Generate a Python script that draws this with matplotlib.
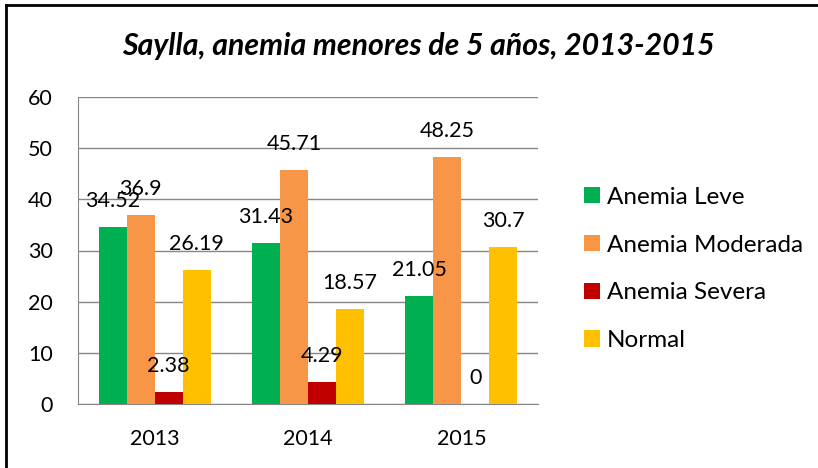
import matplotlib.pyplot as plt
import numpy as np
from matplotlib.lines import Line2D

# ---- data ----
years = ["2013", "2014", "2015"]
series_names = ["Anemia Leve", "Anemia Moderada", "Anemia Severa", "Normal"]
leve = [34.52, 31.43, 21.05]
moderada = [36.9, 45.71, 48.25]
severa = [2.38, 4.29, 0]
normal = [26.19, 18.57, 30.7]
colors = ["#00B050", "#F79646", "#C00000", "#FFC000"]

plt.rcParams["font.family"] = ["Lato", "DejaVu Sans"]

W, H = 818, 468
fig = plt.figure(figsize=(W / 100, H / 100), dpi=100)
ax = fig.add_axes([78 / W, 1 - 404 / H, 460 / W, 307 / H])

x = np.arange(len(years))
bw = 0.183
all_series = [leve, moderada, severa, normal]
for i, (vals, name, col) in enumerate(zip(all_series, series_names, colors)):
    pos = x + (i - 1.5) * bw
    ax.bar(pos, vals, width=bw, color=col, label=name, zorder=3)
    for px, v in zip(pos, vals):
        ax.annotate(f"{v:g}", (px, v), xytext=(0, 26), textcoords="offset pixels",
                    ha="center", va="center", fontsize=15.5, color="black", zorder=4)

ax.set_xlim(-0.5, 2.5)
ax.set_ylim(0, 60)
ax.set_yticks(range(0, 61, 10))
ax.set_xticks(x)
ax.set_xticklabels(years)
ax.tick_params(axis="both", length=0, labelsize=15.5, colors="black")
ax.tick_params(axis="y", pad=18)
ax.tick_params(axis="x", pad=18)
ax.grid(axis="y", color="#868686", linewidth=1, zorder=0)
for s in ["top", "right"]:
    ax.spines[s].set_visible(False)
ax.spines["left"].set_color("#868686")
ax.spines["bottom"].set_color("#868686")

fig.text(0.512, 1 - 46 / H, "Saylla, anemia menores de 5 años, 2013-2015",
         ha="center", va="center", fontsize=21.8, fontweight="bold", fontstyle="italic")

ax.legend(loc="center left", bbox_to_anchor=(574 / W, 1 - 269 / H), bbox_transform=fig.transFigure,
          frameon=False, fontsize=17.5, handlelength=0.65, handleheight=0.65,
          handletextpad=0.3, labelspacing=1.1, borderaxespad=0)

# chart border (top and left edges visible)
fig.add_artist(Line2D([5.5 / W, 1], [1 - 5 / H, 1 - 5 / H], color="black", linewidth=2,
                      transform=fig.transFigure))
fig.add_artist(Line2D([5.5 / W, 5.5 / W], [0, 1 - 5 / H], color="black", linewidth=2,
                      transform=fig.transFigure))

fig.savefig("out.png", dpi=100)
